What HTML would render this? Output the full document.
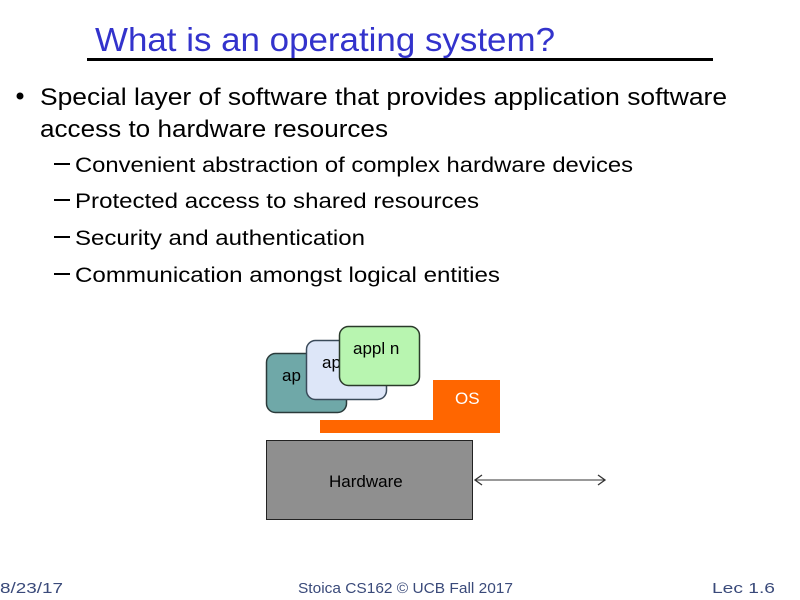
<!DOCTYPE html>
<html><head><meta charset="utf-8"><style>html,body{margin:0;padding:0;background:#fff}svg{display:block}</style></head>
<body>
<svg width="800" height="600" xmlns="http://www.w3.org/2000/svg" font-family="Liberation Sans, Arial, sans-serif">
<text x="95" y="51" font-size="33" fill="#3333cc" textLength="460" lengthAdjust="spacingAndGlyphs">What is an operating system?</text>
<rect x="87" y="58" width="626" height="3" fill="#000"/>
<circle cx="20" cy="96" r="3.5" fill="#000"/>
<g font-size="24" fill="#000">
<text x="40" y="105" textLength="687" lengthAdjust="spacingAndGlyphs">Special layer of software that provides application software</text>
<text x="40" y="137" textLength="348" lengthAdjust="spacingAndGlyphs">access to hardware resources</text>
</g>
<g font-size="21" fill="#000">
<rect x="54" y="163" width="16" height="2"/>
<text x="75" y="172" textLength="558" lengthAdjust="spacingAndGlyphs">Convenient abstraction of complex hardware devices</text>
<rect x="54" y="199" width="16" height="2"/>
<text x="75" y="208" textLength="404" lengthAdjust="spacingAndGlyphs">Protected access to shared resources</text>
<rect x="54" y="236" width="16" height="2"/>
<text x="75" y="245" textLength="290" lengthAdjust="spacingAndGlyphs">Security and authentication</text>
<rect x="54" y="273" width="16" height="2"/>
<text x="75" y="282" textLength="425" lengthAdjust="spacingAndGlyphs">Communication amongst logical entities</text>
</g>
<rect x="266.5" y="353.5" width="80" height="59" rx="9" fill="#6fa8a8" stroke="#2a3a3a" stroke-width="1.5"/>
<text x="282" y="381" font-size="17" fill="#000">ap</text>
<rect x="306.5" y="340.5" width="80" height="59" rx="9" fill="#dde6f8" stroke="#3a4a5a" stroke-width="1.5"/>
<text x="322" y="368" font-size="17" fill="#000">ap</text>
<rect x="339.5" y="326.5" width="80" height="59" rx="9" fill="#b8f5b0" stroke="#2a3a2a" stroke-width="1.5"/>
<text x="353" y="354" font-size="17" fill="#000">appl n</text>
<path d="M433 380H500V433H320V420H433Z" fill="#ff6600"/>
<text x="455" y="404" font-size="17" fill="#fff">OS</text>
<rect x="266.5" y="440.5" width="206" height="79" fill="#8f8f8f" stroke="#222" stroke-width="1"/>
<text x="329" y="487" font-size="17" fill="#000">Hardware</text>
<line x1="475" y1="480" x2="605" y2="480" stroke="#333" stroke-width="1"/>
<path d="M482 475L475 480L482 485M598 475L605 480L598 485" fill="none" stroke="#333" stroke-width="1.3"/>
<g font-size="15" fill="#3a4a7a">
<text x="0" y="593" textLength="63" lengthAdjust="spacingAndGlyphs">8/23/17</text>
<text x="298" y="593" textLength="215" lengthAdjust="spacingAndGlyphs">Stoica CS162 © UCB Fall 2017</text>
<text x="712" y="593" textLength="63" lengthAdjust="spacingAndGlyphs">Lec 1.6</text>
</g>
</svg>
</body></html>
